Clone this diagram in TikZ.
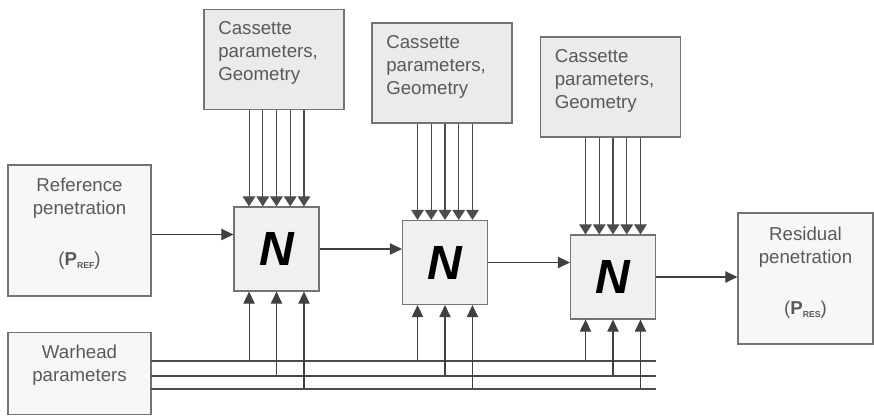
\documentclass[tikz,border=0pt]{standalone}
\usepackage{fontspec}
\setmainfont{Liberation Sans}
\usetikzlibrary{arrows.meta,calc}

\definecolor{boxline}{gray}{0.45}
\definecolor{textgray}{gray}{0.35}
\definecolor{lightfill}{gray}{0.97}
\definecolor{casfill}{gray}{0.92}
\definecolor{netfill}{gray}{0.94}

\tikzset{
  box/.style={draw=boxline, line width=0.9pt, inner sep=0pt},
  inbox/.style={box, fill=lightfill, minimum width=107.25pt, minimum height=98.25pt},
  casbox/.style={box, fill=casfill, minimum width=105pt, minimum height=75pt},
  netbox/.style={box, fill=netfill, minimum width=63.75pt, minimum height=63pt,
    font=\fontsize{36}{36}\selectfont\bfseries\itshape},
  txt/.style={text=textgray, inner sep=0pt, font=\fontsize{14}{17.25}\selectfont},
  arr/.style={draw=black!75, line width=0.8pt, -{Triangle[length=9pt,width=8.5pt]}},
  feed/.style={draw=black!70, line width=0.8pt, -{Triangle[length=7.5pt,width=9.5pt]}},
  bus/.style={draw=black!70, line width=0.8pt}
}

\newcommand{\pen}[1]{(\textbf{P}\raisebox{-2.5pt}{\fontsize{6.5}{7}\selectfont\textbf{#1}})}

\begin{document}
\begin{tikzpicture}[x=0.75pt, y=-0.75pt]
  \useasboundingbox (0,0) rectangle (874,415);

  % Input and output boxes
  \node[inbox] (ref) at (79.5,230.5) {};
  \node[txt, align=center] (reftxt) at ([yshift=5pt]ref.center)
    {Reference\\penetration\\[21pt]\pen{REF}};
  \node[box, fill=lightfill, minimum width=107.25pt, minimum height=61pt] (war) at (79.5,373.5) {};
  \node[txt, align=center] (wartxt) at ([yshift=6.4pt]war.center) {Warhead\\parameters};
  \node[inbox, minimum width=101.25pt] (res) at (805.5,278.5) {};
  \node[txt, align=center] (restxt) at ([yshift=4.5pt]res.center)
    {Residual\\penetration\\[21pt]\pen{RES}};

  % Cassettes
  \node[casbox] (cas1) at (274,59.5) {};
  \node[casbox] (cas2) at (442,73) {};
  \node[casbox] (cas3) at (610.5,87) {};
  \foreach \c in {cas1,cas2,cas3}
    \node[txt, align=left, anchor=north west] at ([xshift=11pt,yshift=-9.5pt]\c.north west)
      {Cassette\\parameters,\\Geometry};

  % Networks
  \node[netbox] (n1) at (276.5,249) {N};
  \node[netbox] (n2) at (445,262.5) {N};
  \node[netbox] (n3) at (613,277) {N};

  % Warhead bus
  \coordinate (bus1) at (151,361);
  \coordinate (bus2) at (151,376);
  \coordinate (bus3) at (151,389);
  \foreach \b in {bus1,bus2,bus3}
    \draw[bus] (\b) -- (\b -| n3.east);

  % Feeds into each network
  \foreach \c/\n in {cas1/n1,cas2/n2,cas3/n3} {
    \foreach \d in {-20.6,-10.3,0,10.3,20.6}
      \draw[feed] ([xshift=\d pt]\n.north |- \c.south) -- ([xshift=\d pt]\n.north);
    \draw[arr] ([xshift=-20.6pt]\n.south |- bus1) -- ([xshift=-20.6pt]\n.south);
    \draw[arr] (\n.south |- bus2) -- (\n.south);
    \draw[arr] ([xshift=20.6pt]\n.south |- bus3) -- ([xshift=20.6pt]\n.south);
  }

  % Chain
  \draw[arr] ([yshift=-3pt]ref.east) -- ([yshift=-3pt]ref.east -| n1.west);
  \draw[arr] (n1.east) -- (n1.east -| n2.west);
  \draw[arr] (n2.east) -- (n2.east -| n3.west);
  \draw[arr] (n3.east) -- (n3.east -| res.west);
\end{tikzpicture}
\end{document}
